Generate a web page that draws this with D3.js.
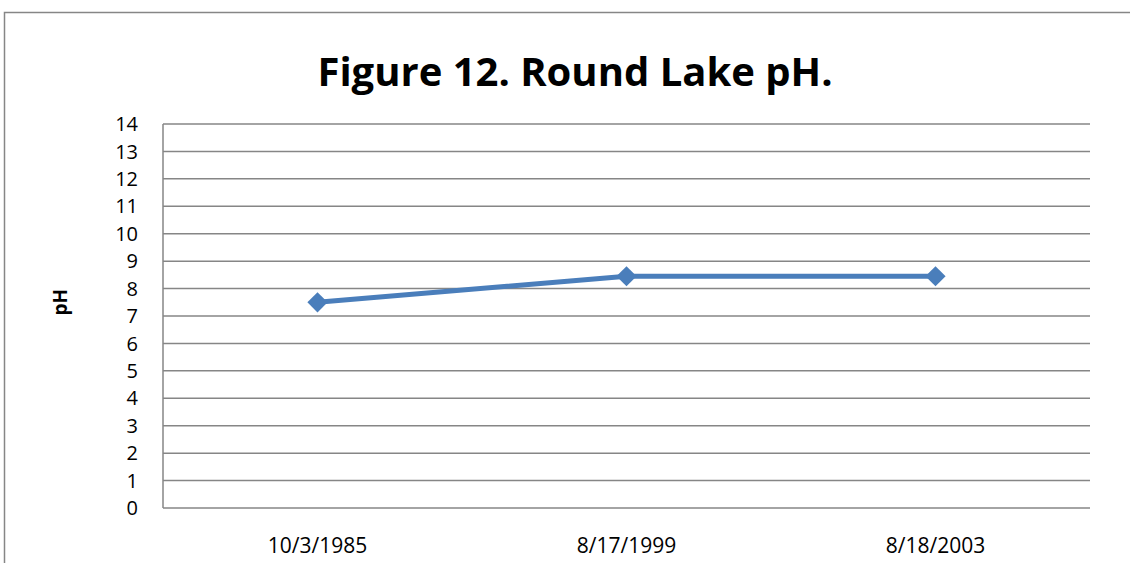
<!DOCTYPE html>
<html>
<head>
<meta charset="utf-8">
<script src="https://cdn.jsdelivr.net/npm/d3@7"></script>
<style>
  body { margin: 0; background: #fff; }
  text { font-family: "Open Sans", "Noto Sans", sans-serif; }
</style>
</head>
<body>
<script>
var width = 1130,
    height = 563;

// data
var dates = ["10/3/1985", "8/17/1999", "8/18/2003"];
var phValues = [7.5, 8.45, 8.45];
var yTicks = d3.range(0, 15);

var margin = {top: 124, right: 40, bottom: 55, left: 163};

var svg = d3.select("body").append("svg")
    .attr("width", width)
    .attr("height", height);

// outer chart border (runs off right and bottom)
svg.append("path")
    .attr("d", "M4.5," + (height + 2) + "V12.5H" + (width + 2))
    .attr("fill", "none")
    .attr("stroke", "#868686")
    .attr("stroke-width", 1.5);

var x = d3.scaleBand()
    .domain(dates)
    .range([margin.left, width - margin.right]);

var y = d3.scaleLinear()
    .domain([0, 14])
    .range([height - margin.bottom, margin.top]);

// gridlines
svg.append("g")
    .selectAll("line")
    .data(yTicks)
    .enter().append("line")
    .attr("x1", margin.left)
    .attr("x2", width - margin.right)
    .attr("y1", function(d) { return y(d); })
    .attr("y2", function(d) { return y(d); })
    .attr("stroke", "#868686")
    .attr("stroke-width", 1.5);

// left axis line
svg.append("line")
    .attr("x1", margin.left).attr("x2", margin.left)
    .attr("y1", y(14)).attr("y2", y(0))
    .attr("stroke", "#868686")
    .attr("stroke-width", 1.5);

// y tick labels
svg.append("g")
    .selectAll("text")
    .data(yTicks)
    .enter().append("text")
    .attr("x", margin.left - 25)
    .attr("y", function(d) { return y(d); })
    .attr("dy", "0.36em")
    .attr("text-anchor", "end")
    .attr("font-size", 20)
    .attr("fill", "#000")
    .text(function(d) { return d; });

// x tick labels
svg.append("g")
    .selectAll("text")
    .data(dates)
    .enter().append("text")
    .attr("x", function(d) { return x(d) + x.bandwidth() / 2; })
    .attr("y", 553)
    .attr("text-anchor", "middle")
    .attr("font-size", 21)
    .attr("fill", "#000")
    .text(function(d) { return d; });

// title
svg.append("text")
    .attr("x", 575)
    .attr("y", 86)
    .attr("text-anchor", "middle")
    .attr("font-size", 40)
    .attr("font-weight", "bold")
    .text("Figure 12. Round Lake pH.");

// y axis title
svg.append("text")
    .attr("transform", "translate(67," + y(7.5) + ") rotate(-90)")
    .attr("text-anchor", "middle")
    .attr("font-size", 19)
    .attr("font-weight", "bold")
    .text("pH");

var line = d3.line()
    .x(function(d, i) { return x(dates[i]) + x.bandwidth() / 2; })
    .y(function(d) { return y(d); });

svg.append("path")
    .datum(phValues)
    .attr("d", line)
    .attr("fill", "none")
    .attr("stroke", "#4a7ebb")
    .attr("stroke-width", 5)
    .attr("stroke-linejoin", "round");

svg.append("g")
    .selectAll("path")
    .data(phValues)
    .enter().append("path")
    .attr("d", d3.symbol().type(d3.symbolDiamond2).size(260))
    .attr("transform", function(d, i) {
      return "translate(" + (x(dates[i]) + x.bandwidth() / 2) + "," + y(d) + ")";
    })
    .attr("fill", "#4a7ebb");
</script>
</body>
</html>
